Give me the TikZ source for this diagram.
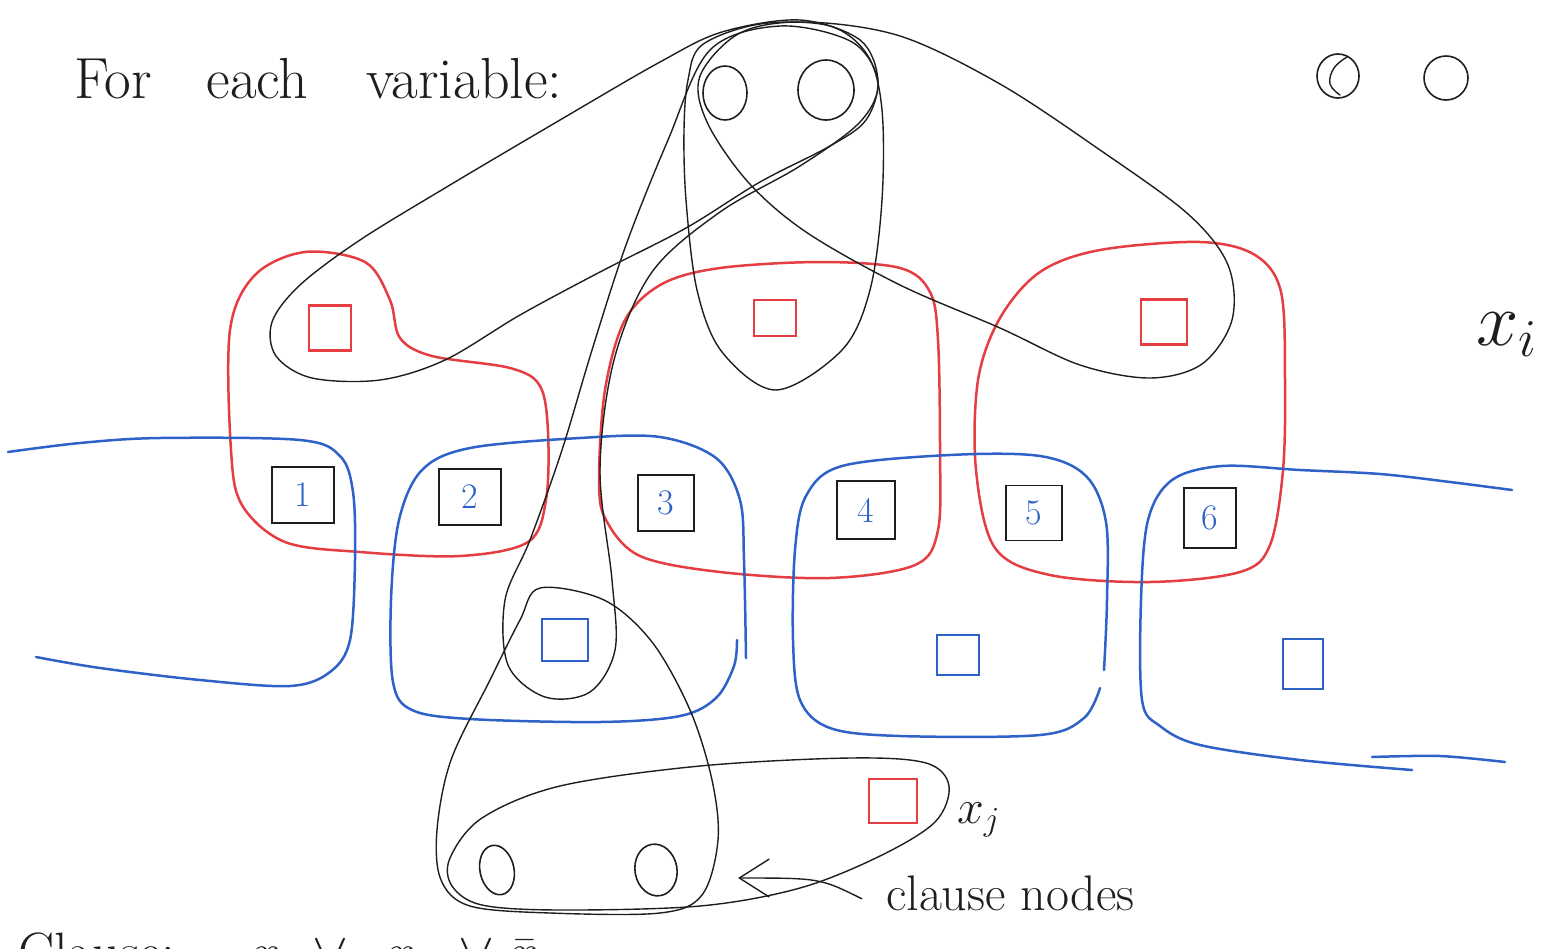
\RequirePackage{fix-cm}
\documentclass[tikz,border=0pt]{standalone}
\usetikzlibrary{arrows.meta,shapes.geometric}
\definecolor{pred}{RGB}{228,62,66}
\definecolor{pblue}{RGB}{46,98,200}
\definecolor{ink}{RGB}{30,30,30}
\tikzset{
  redloop/.style={draw=pred, line width=2.5pt, line join=round, line cap=round},
  blueloop/.style={draw=pblue, line width=2.5pt, line join=round, line cap=round},
  inkloop/.style={draw=ink, line width=1.4pt, line join=round, line cap=round},
  numbox/.style={draw=ink, line width=1.9pt, minimum width=58pt, minimum height=56pt,
    inner sep=0pt, text=pblue, font=\fontsize{36}{36}\selectfont},
  redsq/.style={draw=pred, line width=2.2pt, minimum width=42pt, minimum height=42pt, inner sep=0pt},
  bluesq/.style={draw=pblue, line width=2.2pt, minimum width=42pt, minimum height=42pt, inner sep=0pt},
  oval/.style={draw=ink, ellipse, line width=1.6pt, inner sep=0pt},
  hand/.style={text=ink, inner sep=0pt},
  foot/.style={hand, anchor=base west, font=\fontsize{54}{54}\selectfont},
  arrowink/.style={draw=ink, line width=1.4pt, -{Straight Barb[length=30pt,width=38pt,line width=1.4pt]}}
}
\begin{document}
\begin{tikzpicture}[x=1pt,y=-1pt]
\useasboundingbox (0,0) rectangle (1549,948);
\begin{scope}
\clip (0,0) rectangle (1549,948);

% ---------- headings and labels ----------
\node[hand, anchor=base west, font=\fontsize{58}{58}\selectfont] (head) at (74,98)
  {For\hspace{55pt}each\hspace{58pt}variable:};
\node[hand, anchor=base west, font=\fontsize{76}{76}\selectfont] (xi) at (1476,345) {$x_{i}$};
\node[hand, anchor=base west, font=\fontsize{48}{48}\selectfont] (xj) at (957,823) {$x_{j}$};
\node[hand, anchor=base west, font=\fontsize{50}{50}\selectfont] (clauselbl) at (886,910) {clause nodes};

% clause written along the lower edge of the sheet
\node[foot] (cl0) at (18,970) {Clause:};
\node[foot] (cl1) at (250,970) {$x_1$};
\node[foot] (cl2) at (312,970) {$\vee$};
\node[foot] (cl3) at (385,970) {$x_2$};
\node[foot] (cl4) at (458,970) {$\vee$};
\node[foot] (cl5) at (508,970) {$\bar{x}_3$};

% ---------- top-right legend circles ----------
\node[oval, minimum width=42pt, minimum height=44pt] (lgA) at (1338,76) {};
\draw[inkloop] plot[smooth, tension=0.7] coordinates {(1347,57) (1334,68) (1330,84) (1340,95)};
\node[oval, minimum width=44pt, minimum height=44pt] (lgB) at (1446,78) {};

% ---------- red variable loops ----------
\draw[redloop] plot[smooth cycle, tension=0.55] coordinates {
  (230,330) (255,275) (305,252) (365,262) (390,300) (400,338) (432,356) (510,368)
  (540,386) (548,432) (546,500) (528,542) (460,556) (360,552) (285,542) (242,505) (231,450)};
\draw[redloop] plot[smooth cycle, tension=0.55] coordinates {
  (599,480) (605,390) (625,320) (662,284) (720,268) (820,262) (900,268) (930,292)
  (938,340) (940,450) (938,530) (915,565) (830,578) (720,572) (640,556) (606,520)};
\draw[redloop] plot[smooth cycle, tension=0.55] coordinates {
  (976,470) (978,380) (1000,318) (1040,272) (1100,250) (1200,242) (1255,255) (1281,292)
  (1285,380) (1283,470) (1270,545) (1240,572) (1150,582) (1050,575) (995,548)};

% ---------- blue clause loops ----------
\draw[blueloop] plot[smooth, tension=0.55] coordinates {
  (8,452) (80,443) (160,438) (300,440) (340,456) (353,492) (355,560) (350,640)
  (330,672) (290,686) (200,680) (100,668) (36,657)};
\draw[blueloop] plot[smooth, tension=0.55] coordinates {
  (746,658) (744,560) (740,500) (716,458) (660,437) (580,438) (470,448) (422,470)
  (399,520) (391,600) (393,682) (412,710) (470,719) (600,722) (680,716) (716,698)
  (734,666) (737,640)};
\draw[blueloop] plot[smooth, tension=0.55] coordinates {
  (1104,670) (1107,600) (1106,522) (1086,476) (1040,456) (950,455) (842,466) (806,496)
  (795,550) (793,640) (800,700) (830,728) (900,736) (1040,735) (1084,718) (1100,688)};
\draw[blueloop] plot[smooth, tension=0.55] coordinates {
  (1512,490) (1450,482) (1380,474) (1300,470) (1222,466) (1172,480) (1148,520)
  (1141,600) (1142,700) (1160,726) (1200,745) (1300,760) (1412,770)};
\draw[blueloop] plot[smooth, tension=0.5] coordinates {(1372,757) (1440,756) (1505,762)};

% ---------- black hyperedges ----------
% red square 1 with the variable nodes
\draw[inkloop] plot[smooth cycle, tension=0.55] coordinates {
  (272,322) (300,285) (360,240) (450,185) (560,120) (660,62) (722,32) (800,20)
  (860,40) (878,80) (866,120) (830,146) (760,182) (686,228) (600,272) (520,315)
  (445,360) (380,380) (312,378) (276,356)};
% red square 3 with the variable nodes
\draw[inkloop] plot[smooth cycle, tension=0.55] coordinates {
  (700,76) (740,33) (805,22) (900,36) (1000,84) (1100,150) (1188,214) (1228,265)
  (1232,320) (1202,364) (1150,378) (1080,365) (1000,328) (900,285) (806,232)
  (748,182) (707,122)};
% red square 2 with the variable nodes
\draw[inkloop] plot[smooth cycle, tension=0.55] coordinates {
  (688,80) (702,45) (760,24) (830,26) (868,56) (882,110) (882,200) (870,290)
  (842,350) (776,390) (722,352) (697,290) (686,200) (684,130)};
% variable nodes down to the blue square
\draw[inkloop] plot[smooth cycle, tension=0.55] coordinates {
  (710,50) (668,140) (626,245) (592,350) (562,450) (530,540) (505,600) (508,665)
  (545,697) (590,692) (615,650) (612,580) (600,470) (614,360) (652,272) (720,212)
  (800,166) (860,122) (878,82) (852,42) (780,26)};
% blue square down to the two clause nodes
\draw[inkloop] plot[smooth cycle, tension=0.55] coordinates {
  (540,588) (604,600) (652,642) (690,710) (712,780) (718,840) (702,895) (660,913)
  (550,913) (470,906) (441,880) (437,830) (451,760) (490,680) (520,620)};
% clause nodes with the red square
\draw[inkloop] plot[smooth cycle, tension=0.55] coordinates {
  (450,858) (482,818) (560,786) (700,766) (850,758) (926,763) (949,786) (935,822)
  (880,856) (800,888) (700,906) (560,910) (482,905) (452,886)};

% ---------- variable nodes (top) ----------
\node[oval, minimum width=44pt, minimum height=54pt] (vT) at (725,93) {};
\node[oval, minimum width=56pt, minimum height=60pt] (vF) at (826,90) {};

% ---------- red literal squares ----------
\node[redsq, minimum height=45pt] (r1) at (330,328) {};
\node[redsq, minimum height=36pt] (r2) at (775,318) {};
\node[redsq, minimum width=46pt, minimum height=45pt] (r3) at (1164,322) {};
\node[redsq, minimum width=48pt, minimum height=44pt] (rx) at (893,801) {};

% ---------- numbered squares ----------
\node[numbox, minimum width=62pt] (n1) at (303,495) {1};
\node[numbox, minimum width=62pt] (n2) at (470,497) {2};
\node[numbox, minimum width=56pt] (n3) at (666,503) {3};
\node[numbox, minimum height=58pt] (n4) at (866,510) {4};
\node[numbox, minimum width=56pt, minimum height=55pt] (n5) at (1034,513) {5};
\node[numbox, minimum width=52pt, minimum height=60pt] (n6) at (1210,518) {6};

% ---------- blue clause squares ----------
\node[bluesq, minimum width=46pt] (b1) at (565,640) {};
\node[bluesq, minimum height=40pt] (b2) at (958,655) {};
\node[bluesq, minimum width=40pt, minimum height=50pt] (b3) at (1303,664) {};

% ---------- clause nodes (bottom) ----------
\node[oval, minimum width=34pt, minimum height=50pt, rotate=12] (q1) at (497,870) {};
\node[oval, minimum width=42pt, minimum height=52pt, rotate=10] (q2) at (656,870) {};

% ---------- pointer to the clause nodes ----------
\coordinate (qtip) at (738,878);
\draw[arrowink] ([xshift=-24pt,yshift=-6pt]clauselbl.west) .. controls (820,878) .. (qtip);
\end{scope}
\end{tikzpicture}
\end{document}
